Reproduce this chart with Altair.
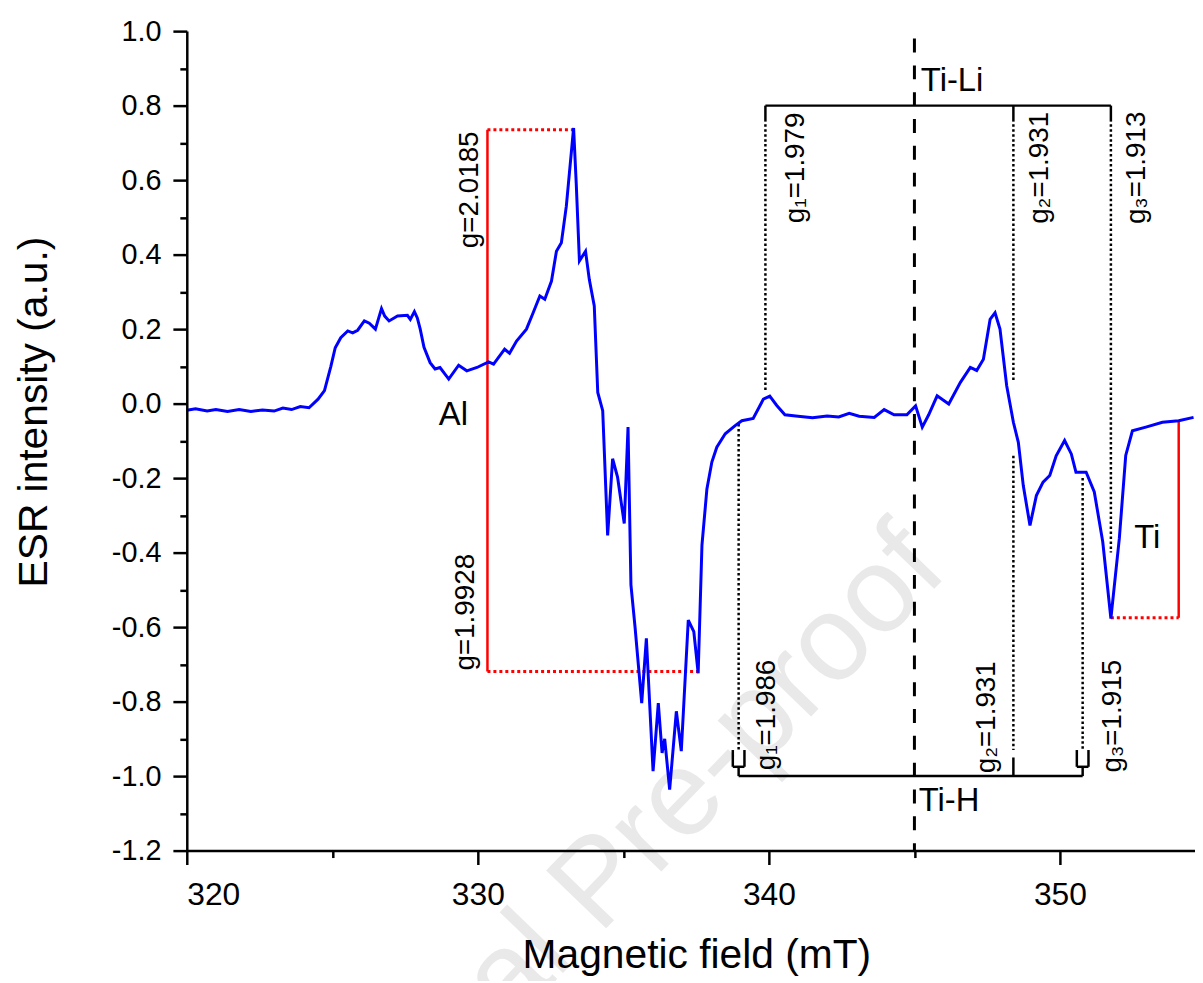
import altair as alt
import pandas as pd

# ---------------- data ----------------
field_mT = [320.00, 320.30, 320.70, 321.00, 321.40, 321.80, 322.20, 322.60, 323.00, 323.30,
            323.60, 323.90, 324.20, 324.51, 324.73, 324.95, 325.10, 325.29, 325.53, 325.70,
            325.87, 326.10, 326.27, 326.48, 326.69, 326.80, 326.95, 327.24, 327.58, 327.68, 327.82,
            327.92, 328.02, 328.15, 328.36, 328.53, 328.70, 329.00, 329.34, 329.62, 329.97, 330.37,
            330.54, 330.92, 331.09, 331.33, 331.67, 331.90, 332.13, 332.30, 332.53, 332.70,
            332.87, 333.04, 333.29, 333.38, 333.49, 333.70, 333.83, 334.00, 334.12, 334.29,
            334.46, 334.63, 334.80, 335.03, 335.16, 335.26, 335.40, 335.63, 335.79, 336.02,
            336.20, 336.33, 336.42, 336.59, 336.82, 336.99, 337.23, 337.42, 337.57, 337.70,
            337.87, 338.04, 338.21, 338.50, 338.84, 339.07, 339.46, 339.81, 340.03, 340.27,
            340.55, 341.00, 341.50, 342.00, 342.40, 342.76, 343.10, 343.62, 343.96, 344.30,
            344.74, 345.04, 345.27, 345.49, 345.78, 346.18, 346.58, 346.92, 347.14, 347.37,
            347.60, 347.77, 347.94, 348.17, 348.40, 348.57, 348.74, 348.97, 349.19, 349.42,
            349.65, 349.87, 350.16, 350.39, 350.55, 350.90, 351.18, 351.47, 351.75, 352.04,
            352.26, 352.49, 352.95, 353.52, 354.08, 354.59]
intensity = [-0.018, -0.014, -0.020, -0.016, -0.021, -0.016, -0.021, -0.017, -0.020, -0.012,
             -0.016, -0.008, -0.011, 0.012, 0.035, 0.100, 0.150, 0.177, 0.195, 0.190,
             0.197, 0.222, 0.216, 0.200, 0.255, 0.235, 0.222, 0.235, 0.237, 0.226, 0.247,
             0.230, 0.200, 0.151, 0.110, 0.093, 0.097, 0.066, 0.103, 0.088, 0.097, 0.112,
             0.106, 0.146, 0.135, 0.168, 0.200, 0.244, 0.289, 0.280, 0.329, 0.409,
             0.432, 0.530, 0.740, 0.592, 0.383, 0.409, 0.333, 0.262, 0.030, -0.019,
             -0.354, -0.148, -0.197, -0.322, -0.063, -0.487, -0.599, -0.804, -0.630, -0.987,
             -0.804, -0.938, -0.900, -1.036, -0.826, -0.933, -0.581, -0.612, -0.724, -0.380,
             -0.229, -0.157, -0.117, -0.081, -0.059, -0.046, -0.040, 0.012, 0.020, -0.005,
             -0.030, -0.034, -0.038, -0.033, -0.036, -0.026, -0.034, -0.037, -0.016, -0.030,
             -0.030, -0.006, -0.063, -0.030, 0.021, -0.001, 0.057, 0.097, 0.089, 0.119,
             0.226, 0.244, 0.200, 0.048, -0.050, -0.104, -0.220, -0.327, -0.247, -0.211,
             -0.193, -0.140, -0.099, -0.135, -0.184, -0.184, -0.237, -0.371, -0.577, -0.362,
             -0.139, -0.073, -0.063, -0.050, -0.046, -0.037]

# annotation segments (field, intensity) start / end
blk_solid_B = [339.88, 339.88, 348.40, 351.75, 338.96, 348.40, 338.76, 338.76, 339.16, 338.96,
               350.58, 350.58, 350.98, 350.78]
blk_solid_B2 = [351.75, 339.88, 348.40, 351.75, 350.78, 348.40, 338.76, 339.16, 339.16, 338.96,
                350.58, 350.98, 350.98, 350.78]
blk_solid_I = [0.80, 0.80, 0.80, 0.80, -1.0, -1.0, -0.93, -0.975, -0.975, -0.975,
               -0.93, -0.975, -0.975, -0.975]
blk_solid_I2 = [0.80, 0.757, 0.757, 0.757, -1.0, -0.95, -0.975, -0.975, -0.93, -1.0,
                -0.975, -0.975, -0.93, -1.0]

blk_dot_B = [339.88, 348.40, 351.75, 338.96, 348.40, 350.78]
blk_dot_I = [0.75, 0.75, 0.75, -0.055, -0.14, -0.20]
blk_dot_I2 = [0.03, 0.06, -0.40, -0.93, -0.93, -0.93]

dash_B = [345.0]
dash_I = [0.98]
dash_I2 = [-1.2]

red_solid_B = [330.33, 354.08]
red_solid_I = [0.735, -0.046]
red_solid_I2 = [-0.719, -0.575]

red_dot_B = [330.33, 330.33, 351.75]
red_dot_B2 = [333.29, 337.53, 354.08]
red_dot_I = [0.735, -0.719, -0.575]

rot_labels = ["g=2.0185", "g=1.9928", "g\u2081=1.979", "g\u2082=1.931", "g\u2083=1.913",
              "g\u2081=1.986", "g\u2082=1.931", "g\u2083=1.915"]
rot_B = [329.73, 329.60, 340.92, 349.32, 352.66, 339.95, 347.51, 351.84]
rot_I = [0.574, -0.560, 0.633, 0.633, 0.633, -0.836, -0.842, -0.839]

hor_labels = ["Al", "Ti", "Ti-Li", "Ti-H"]
hor_B = [328.66, 352.55, 345.22, 345.15]
hor_I = [-0.031, -0.362, 0.866, -1.067]

watermark_text = ["Journal Pre-proof"]
watermark_B = [345.32]
watermark_I = [-0.384]

x_ticks = [320, 325, 330, 335, 340, 345, 350]
y_ticks = [-1.2, -1.1, -1.0, -0.9, -0.8, -0.7, -0.6, -0.5, -0.4, -0.3, -0.2, -0.1,
           0.0, 0.1, 0.2, 0.3, 0.4, 0.5, 0.6, 0.7, 0.8, 0.9, 1.0]

# ---------------- chart ----------------
FONT = "Liberation Sans, Arial, Helvetica, sans-serif"

x_axis = alt.Axis(
    values=x_ticks,
    labelExpr="datum.value % 10 === 0 ? datum.label : ''",
    format="d",
    tickSize={"condition": {"test": "datum.value % 10 === 0", "value": 14}, "value": 7},
    labelFontSize=32,
    labelPadding=15,
    title="Magnetic field (mT)",
    titleFontSize=41,
    titleX=513,
    titleY=106,
    titleBaseline="middle",
    titleAnchor="start",
    titleAlign="center",
    zindex=1,
)
y_axis = alt.Axis(
    values=y_ticks,
    labelExpr="abs(round(datum.value*10)) % 2 === 0 ? replace(format(datum.value, '.1f'), '\u2212', '-') : ''",
    tickSize={"condition": {"test": "abs(round(datum.value*10)) % 2 === 0", "value": 14}, "value": 7},
    labelFontSize=29,
    labelPadding=12,
    title="ESR intensity (a.u.)",
    titleFontSize=41,
    titleAngle=270,
    titleX=-153,
    titleY=383,
    titleAlign="center",
    titleBaseline="middle",
    titleAnchor="start",
    zindex=1,
)

xs = alt.Scale(domain=[320, 354.64], nice=False, zero=False)
ys = alt.Scale(domain=[-1.2, 1.0], nice=False, zero=False)
X = alt.X("B:Q", scale=xs, axis=x_axis)
Y = alt.Y("I:Q", scale=ys, axis=y_axis)

curve = pd.DataFrame({"B": field_mT, "I": intensity})
blk_solid = pd.DataFrame({"B": blk_solid_B, "B2": blk_solid_B2, "I": blk_solid_I, "I2": blk_solid_I2})
blk_dot = pd.DataFrame({"B": blk_dot_B, "I": blk_dot_I, "I2": blk_dot_I2})
dash = pd.DataFrame({"B": dash_B, "I": dash_I, "I2": dash_I2})
red_solid = pd.DataFrame({"B": red_solid_B, "I": red_solid_I, "I2": red_solid_I2})
red_dot = pd.DataFrame({"B": red_dot_B, "B2": red_dot_B2, "I": red_dot_I})
rot = pd.DataFrame({"B": rot_B, "I": rot_I, "label": rot_labels})
hor = pd.DataFrame({"B": hor_B, "I": hor_I, "label": hor_labels})
wm = pd.DataFrame({"B": watermark_B, "I": watermark_I, "label": watermark_text})

watermark = alt.Chart(wm).mark_text(
    font=FONT, fontSize=122, angle=314, align="right", baseline="middle", color="#e9e9e9"
).encode(x=X, y=Y, text="label:N")

l_blk_solid = alt.Chart(blk_solid).mark_rule(color="black", strokeWidth=2.5).encode(
    x=X, x2=alt.X2("B2"), y=Y, y2=alt.Y2("I2"))
l_blk_dot = alt.Chart(blk_dot).mark_rule(color="black", strokeWidth=2.5, strokeDash=[2.5, 2.5]).encode(
    x=X, y=Y, y2=alt.Y2("I2"))
l_dash = alt.Chart(dash).mark_rule(color="black", strokeWidth=3, strokeDash=[14, 13]).encode(
    x=X, y=Y, y2=alt.Y2("I2"))
l_red_solid = alt.Chart(red_solid).mark_rule(color="#ff0000", strokeWidth=2.5).encode(
    x=X, y=Y, y2=alt.Y2("I2"))
l_red_dot = alt.Chart(red_dot).mark_rule(color="#ff0000", strokeWidth=3, strokeDash=[3, 3]).encode(
    x=X, x2=alt.X2("B2"), y=Y)

line = alt.Chart(curve).mark_line(color="#0000ff", strokeWidth=3).encode(x=X, y=Y, order="B:Q")

t_rot = alt.Chart(rot).mark_text(
    font=FONT, fontSize=28, angle=270, align="center", baseline="middle", color="black"
).encode(x=X, y=Y, text="label:N")
t_hor = alt.Chart(hor).mark_text(
    font=FONT, fontSize=33, align="left", baseline="middle", color="black"
).encode(x=X, y=Y, text="label:N")

chart = alt.layer(
    watermark, l_blk_dot, l_dash, l_blk_solid, l_red_dot, l_red_solid, line, t_rot, t_hor
).properties(
    width=1015,
    height=825,
    padding={"left": 180, "top": 20, "right": 0, "bottom": 128},
    autosize=alt.AutoSizeParams(type="none"),
    background="white",
).configure_axis(
    grid=False,
    domainColor="black",
    domainWidth=2.5,
    tickColor="black",
    tickWidth=2.5,
    labelColor="black",
    titleColor="black",
    labelFont=FONT,
    titleFont=FONT,
    titleFontWeight="normal",
).configure_view(strokeWidth=0)

chart.save("out.html", embed_options={"renderer": "svg", "actions": False})
